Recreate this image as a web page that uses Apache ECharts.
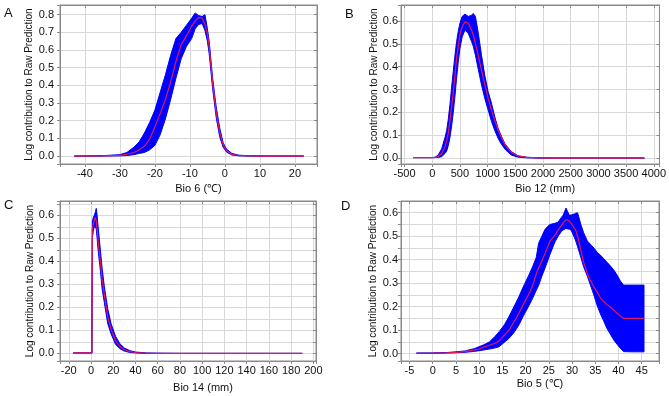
<!DOCTYPE html>
<html><head><meta charset="utf-8">
<script src="https://cdn.jsdelivr.net/npm/echarts@6/dist/echarts.min.js"></script>
<style>html,body{margin:0;padding:0;background:#fff}#c{width:669px;height:396px}</style>
</head><body><div id="c"></div>
<script>
// ---- Panel A: Bio 6 ----
const xA    = [-43, -35, -30, -28, -26, -24.5, -23, -21.5, -20, -18.5, -17, -15.5, -14, -12.5, -11, -9.5, -8.5, -7.5, -6.5, -5.7, -5, -4.5, -3.5, -2.5, -1.5, -0.5, 0.5, 2, 4, 7, 12, 22.5];
const upA   = [0, 0.002, 0.008, 0.02, 0.05, 0.08, 0.13, 0.19, 0.26, 0.36, 0.46, 0.57, 0.665, 0.70, 0.74, 0.78, 0.81, 0.795, 0.79, 0.80, 0.72, 0.65, 0.44, 0.28, 0.16, 0.075, 0.038, 0.015, 0.005, 0.001, 0, 0];
const meanA = [0, 0.001, 0.004, 0.01, 0.02, 0.035, 0.055, 0.095, 0.165, 0.24, 0.32, 0.42, 0.535, 0.63, 0.68, 0.735, 0.765, 0.785, 0.78, 0.745, 0.69, 0.62, 0.41, 0.25, 0.135, 0.065, 0.03, 0.01, 0.003, 0.0005, 0, 0];
const lowA  = [0, 0, 0.001, 0.003, 0.008, 0.015, 0.02, 0.035, 0.06, 0.12, 0.21, 0.32, 0.44, 0.55, 0.62, 0.665, 0.72, 0.745, 0.75, 0.71, 0.65, 0.58, 0.38, 0.22, 0.11, 0.05, 0.022, 0.006, 0.001, 0, 0, 0];

// ---- Panel B: Bio 12 ----
const xB    = [-340, 0, 60, 110, 170, 230, 260, 290, 320, 350, 380, 410, 440, 470, 500, 540, 590, 650, 710, 740, 780, 830, 890, 950, 1010, 1070, 1130, 1190, 1250, 1310, 1370, 1430, 1550, 1700, 1900, 2200, 3000, 3830];
const upB   = [0.002, 0.002, 0.005, 0.014, 0.04, 0.09, 0.12, 0.17, 0.235, 0.31, 0.38, 0.45, 0.51, 0.555, 0.59, 0.62, 0.63, 0.62, 0.625, 0.633, 0.62, 0.55, 0.45, 0.36, 0.29, 0.24, 0.18, 0.13, 0.095, 0.064, 0.045, 0.028, 0.01, 0.004, 0.001, 0, 0, 0];
const meanB = [0.002, 0.002, 0.003, 0.008, 0.02, 0.05, 0.075, 0.11, 0.165, 0.225, 0.29, 0.36, 0.44, 0.49, 0.54, 0.575, 0.597, 0.59, 0.56, 0.54, 0.50, 0.45, 0.385, 0.32, 0.26, 0.21, 0.165, 0.123, 0.09, 0.06, 0.04, 0.025, 0.009, 0.003, 0.001, 0, 0, 0];
const lowB  = [0.002, 0.002, 0.002, 0.003, 0.006, 0.02, 0.03, 0.055, 0.09, 0.14, 0.2, 0.27, 0.35, 0.42, 0.48, 0.53, 0.56, 0.546, 0.51, 0.49, 0.45, 0.39, 0.32, 0.26, 0.21, 0.16, 0.12, 0.086, 0.06, 0.04, 0.025, 0.013, 0.004, 0.001, 0, 0, 0, 0];

// ---- Panel C: Bio 14 ----
const xC    = [-16, 0.8, 1.2, 2, 3, 4, 4.7, 5.5, 6, 7, 8, 10, 12, 15, 18, 22, 26, 30, 35, 40, 50, 60, 80, 190];
const upC   = [0.002, 0.002, 0.57, 0.59, 0.60, 0.615, 0.63, 0.60, 0.57, 0.52, 0.47, 0.37, 0.29, 0.195, 0.13, 0.075, 0.042, 0.023, 0.012, 0.006, 0.002, 0.001, 0, 0];
const meanC = [0.002, 0.002, 0.54, 0.56, 0.58, 0.59, 0.575, 0.54, 0.51, 0.46, 0.42, 0.32, 0.255, 0.16, 0.105, 0.055, 0.03, 0.016, 0.008, 0.004, 0.001, 0, 0, 0];
const lowC  = [0.002, 0.002, 0.50, 0.53, 0.55, 0.55, 0.54, 0.50, 0.47, 0.42, 0.38, 0.28, 0.22, 0.13, 0.085, 0.04, 0.02, 0.01, 0.004, 0.002, 0, 0, 0, 0];

// ---- Panel D: Bio 5 ----
const xD    = [-3.5, 0, 3, 5, 7, 9, 10, 11, 12.2, 13.5, 14.3, 15.5, 16.4, 17.5, 18.5, 19.5, 20.6, 21.5, 22.3, 22.8, 23.5, 24.2, 25.2, 26.3, 27, 27.7, 28.1, 28.7, 29.4, 29.8, 30.5, 30.8, 31.2, 31.9, 32.5, 33.3, 34, 34.7, 35.5, 36.1, 36.8, 37.5, 38.2, 39, 39.7, 40.4, 41.1, 43, 45.5];
const upD   = [0.003, 0.003, 0.005, 0.008, 0.012, 0.022, 0.03, 0.038, 0.05, 0.075, 0.094, 0.125, 0.157, 0.2, 0.24, 0.285, 0.33, 0.37, 0.41, 0.47, 0.5, 0.53, 0.55, 0.555, 0.56, 0.58, 0.59, 0.62, 0.59, 0.59, 0.595, 0.598, 0.60, 0.55, 0.515, 0.48, 0.465, 0.45, 0.43, 0.42, 0.405, 0.39, 0.375, 0.356, 0.335, 0.31, 0.292, 0.292, 0.292];
const meanD = [0.002, 0.003, 0.004, 0.006, 0.009, 0.016, 0.02, 0.028, 0.036, 0.045, 0.055, 0.08, 0.1, 0.135, 0.17, 0.21, 0.25, 0.29, 0.34, 0.365, 0.395, 0.427, 0.477, 0.505, 0.526, 0.545, 0.558, 0.571, 0.565, 0.555, 0.535, 0.526, 0.50, 0.44, 0.39, 0.34, 0.31, 0.285, 0.26, 0.238, 0.222, 0.21, 0.2, 0.186, 0.172, 0.16, 0.15, 0.15, 0.15];
const lowD  = [0.002, 0.002, 0.003, 0.004, 0.006, 0.01, 0.013, 0.016, 0.02, 0.025, 0.03, 0.05, 0.065, 0.09, 0.12, 0.16, 0.2, 0.235, 0.27, 0.29, 0.33, 0.365, 0.42, 0.475, 0.5, 0.52, 0.527, 0.533, 0.53, 0.526, 0.495, 0.48, 0.455, 0.41, 0.37, 0.33, 0.29, 0.25, 0.2, 0.17, 0.14, 0.108, 0.085, 0.058, 0.04, 0.023, 0.009, 0.008, 0.008];

const letters = ['A', 'B', 'C', 'D'];
const xNames = ['Bio 6 (℃)', 'Bio 12 (mm)', 'Bio 14 (mm)', 'Bio 5 (℃)'];
const yName = 'Log contribution to Raw Prediction';

const panels = [
  {x: xA, up: upA, mean: meanA, low: lowA, grid: {left: 60, top: 5, width: 257, height: 159},
   xr: [-47.1, 26.3], xs: 7, xstep: 10, yr: [-0.045, 0.855], ys: 9,
   lm: 6, yGap: 26, xGap: 19, xShift: 20, letterPos: [4, 7]},
  {x: xB, up: upB, mean: meanB, low: lowB, grid: {left: 401, top: 5, width: 259, height: 159},
   xr: [-564, 4103], xs: 9, xstep: 500, yr: [-0.026, 0.670], ys: 7,
   lm: 3, yGap: 22, xGap: 19, xShift: 30, letterPos: [345, 8]},
  {x: xC, up: upC, mean: meanC, low: lowC, grid: {left: 60, top: 201, width: 256, height: 160},
   xr: [-27.9, 202.4], xs: 11, xstep: 20, yr: [-0.033, 0.662], ys: 14,
   lm: 6, yGap: 23, xGap: 21, xShift: 30, letterPos: [4, 199]},
  {x: xD, up: upD, mean: meanD, low: lowD, grid: {left: 401, top: 201, width: 258, height: 160},
   xr: [-6.83, 48.73], xs: 11, xstep: 5, yr: [-0.031, 0.650], ys: 14,
   lm: 3, yGap: 23, xGap: 17, xShift: 20, letterPos: [341, 200]}
];

const isMult = (v, s) => Math.abs(v / s - Math.round(v / s)) < 1e-6;
const FONT = 'Liberation Sans, Arial, sans-serif';
const frame = '#8a8a8a';
const gridLine = '#d9d9d9';
const BLUE = '#0000ff';
const RED = '#e0185c';

const grids = [], xAxes = [], yAxes = [], series = [], graphics = [];
panels.forEach((p, i) => {
  grids.push(Object.assign({show: true, borderColor: frame, borderWidth: 1, backgroundColor: '#fff'}, p.grid));
  xAxes.push({
    type: 'value', gridIndex: i, position: 'bottom', min: p.xr[0], max: p.xr[1], splitNumber: p.xs,
    name: xNames[i], nameLocation: 'middle', nameGap: p.xGap,
    nameTextStyle: {fontFamily: FONT, fontSize: 11, color: '#111', padding: [0, 0, 0, p.xShift]},
    axisLine: {show: true, onZero: false, lineStyle: {color: frame}},
    axisTick: {show: true, length: 3, lineStyle: {color: frame}},
    axisLabel: {fontFamily: FONT, fontSize: 11, color: '#111', margin: 4,
      formatter: v => isMult(v, p.xstep) ? String(Math.round(v)) : ''},
    splitLine: {show: true, lineStyle: {color: gridLine, width: 1}}
  });
  xAxes.push({
    type: 'value', gridIndex: i, position: 'top', min: p.xr[0], max: p.xr[1], splitNumber: p.xs,
    axisLine: {show: true, onZero: false, lineStyle: {color: frame}},
    axisTick: {show: true, inside: true, length: 3, lineStyle: {color: frame}},
    axisLabel: {show: false}, splitLine: {show: false}
  });
  yAxes.push({
    type: 'value', gridIndex: i, position: 'left', min: p.yr[0], max: p.yr[1], splitNumber: p.ys,
    name: yName, nameLocation: 'middle', nameGap: p.yGap,
    nameTextStyle: {fontFamily: FONT, fontSize: 10, color: '#111'},
    axisLine: {show: true, onZero: false, lineStyle: {color: frame}},
    axisTick: {show: true, length: 3, lineStyle: {color: frame}},
    axisLabel: {fontFamily: FONT, fontSize: 11, color: '#111', margin: p.lm,
      formatter: v => isMult(v, 0.1) ? v.toFixed(1) : ''},
    splitLine: {show: true, lineStyle: {color: gridLine, width: 1}}
  });
  yAxes.push({
    type: 'value', gridIndex: i, position: 'right', min: p.yr[0], max: p.yr[1], splitNumber: p.ys,
    axisLine: {show: true, onZero: false, lineStyle: {color: frame}},
    axisTick: {show: true, inside: true, length: 3, lineStyle: {color: frame}},
    axisLabel: {show: false}, splitLine: {show: false}
  });
  const xi = 2 * i, yi = 2 * i;
  // confidence band as a polygon: upper envelope forward, lower envelope backward
  series.push({
    type: 'custom', xAxisIndex: xi, yAxisIndex: yi, silent: true, z: 2,
    coordinateSystem: 'cartesian2d',
    data: [[p.x[0], p.low[0]]],
    renderItem: (params, api) => {
      const pts = [];
      for (let k = 0; k < p.x.length; k++) pts.push(api.coord([p.x[k], p.up[k]]));
      for (let k = p.x.length - 1; k >= 0; k--) pts.push(api.coord([p.x[k], p.low[k]]));
      return {type: 'polygon', shape: {points: pts},
        style: {fill: BLUE, stroke: BLUE, lineWidth: 1, lineJoin: 'round'}};
    }
  });
  series.push({
    type: 'line', xAxisIndex: xi, yAxisIndex: yi,
    symbol: 'none', silent: true, z: 3,
    lineStyle: {color: RED, width: 1.2},
    data: p.x.map((x, k) => [x, p.mean[k]])
  });
  graphics.push({type: 'text', left: p.letterPos[0], top: p.letterPos[1],
    style: {text: letters[i], font: '13px ' + FONT, fill: '#111'}});
});

const chart = echarts.init(document.getElementById('c'), null, {renderer: 'canvas'});
chart.setOption({
  animation: false,
  backgroundColor: '#fff',
  grid: grids, xAxis: xAxes, yAxis: yAxes, series: series, graphic: graphics
});
</script></body></html>
